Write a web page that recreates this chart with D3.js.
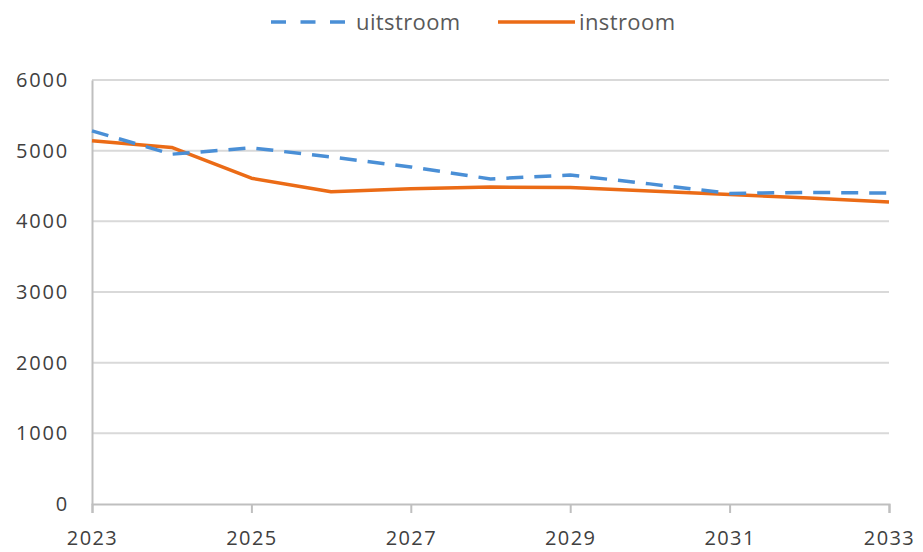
<!DOCTYPE html>
<html>
<head>
<meta charset="utf-8">
<script src="https://cdn.jsdelivr.net/npm/d3@7"></script>
<style>
  html, body { margin: 0; padding: 0; background: #fff; }
  svg { display: block; }
  svg text { font-family: "Open Sans", "Noto Sans", sans-serif; }
</style>
</head>
<body>
<svg id="chart" width="923" height="552"></svg>
<script>
// Projected yearly flows
const years = [2023, 2024, 2025, 2026, 2027, 2028, 2029, 2030, 2031, 2032, 2033];
const uitstroom = [5280, 4950, 5040, 4910, 4770, 4600, 4655, 4530, 4395, 4410, 4400];
const instroom  = [5140, 5045, 4610, 4420, 4460, 4485, 4480, 4430, 4380, 4330, 4275];
const yTicks = [0, 1000, 2000, 3000, 4000, 5000, 6000];
const xTicks = [2023, 2025, 2027, 2029, 2031, 2033];

const svg = d3.select("#chart");
const plot = { left: 92, right: 889, top: 80, bottom: 504 };
const font = "'Open Sans', 'Noto Sans', sans-serif";

const x = d3.scaleLinear().domain([2023, 2033]).range([plot.left, plot.right]);
const y = d3.scaleLinear().domain([0, 6000]).range([plot.bottom, plot.top]);

// horizontal gridlines
svg.append("g")
  .selectAll("line")
  .data(yTicks.filter(d => d > 0))
  .join("line")
  .attr("x1", plot.left).attr("x2", plot.right)
  .attr("y1", d => y(d)).attr("y2", d => y(d))
  .attr("stroke", "#d9d9d9").attr("stroke-width", 2);

// y axis
const yAxis = svg.append("g")
  .attr("transform", `translate(${plot.left},0)`)
  .call(d3.axisLeft(y).tickValues(yTicks).tickSize(0).tickPadding(23).tickFormat(d3.format("d")))
  .attr("font-family", font);
yAxis.select(".domain").attr("stroke", "#bfbfbf").attr("stroke-width", 2);
yAxis.selectAll("text")
  .attr("fill", "#404040")
  .style("font-size", "20px")
  .style("letter-spacing", "1.8px");

// x axis
const xAxis = svg.append("g")
  .attr("transform", `translate(0,${plot.bottom})`)
  .call(d3.axisBottom(x).tickValues(xTicks).tickSize(9).tickPadding(18).tickFormat(d3.format("d")))
  .attr("font-family", font);
xAxis.select(".domain").attr("stroke", "#bfbfbf").attr("stroke-width", 2);
xAxis.selectAll(".tick line").attr("stroke", "#bfbfbf").attr("stroke-width", 2);
xAxis.selectAll("text")
  .attr("fill", "#404040")
  .style("font-size", "20px")
  .style("letter-spacing", "1.4px");

const line = d3.line().x((d, i) => x(years[i])).y(d => y(d));

svg.append("path")
  .datum(instroom)
  .attr("d", line)
  .attr("fill", "none")
  .attr("stroke", "#eb6b16")
  .attr("stroke-width", 3.5)
  .attr("stroke-linejoin", "round");

svg.append("path")
  .datum(uitstroom)
  .attr("d", line)
  .attr("fill", "none")
  .attr("stroke", "#4a8fd6")
  .attr("stroke-width", 3.5)
  .attr("stroke-dasharray", "17,11");

// legend
const legend = svg.append("g");
const items = [
  { name: "uitstroom", color: "#4a8fd6", dash: "15,14.5", x0: 271, x1: 347, tx: 356 },
  { name: "instroom", color: "#eb6b16", dash: null, x0: 498, x1: 575, tx: 579 }
];
items.forEach(it => {
  legend.append("line")
    .attr("x1", it.x0).attr("x2", it.x1)
    .attr("y1", 22).attr("y2", 22)
    .attr("stroke", it.color).attr("stroke-width", 3.5)
    .attr("stroke-dasharray", it.dash);
  legend.append("text")
    .attr("x", it.tx).attr("y", 22).attr("dy", "0.35em")
    .attr("fill", "#595959")
    .style("font-size", "22px")
    .style("letter-spacing", "0.4px")
    .text(it.name);
});
</script>
</body>
</html>
